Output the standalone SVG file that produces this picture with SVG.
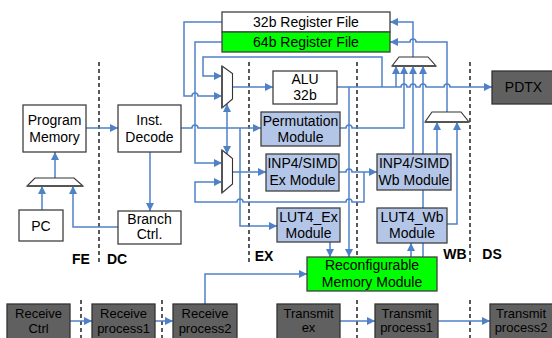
<svg xmlns="http://www.w3.org/2000/svg" width="552" height="338" viewBox="0 0 552 338">
<defs>
<marker id="ah" viewBox="0 0 10 10" refX="10" refY="5" markerWidth="9" markerHeight="8" markerUnits="userSpaceOnUse" orient="auto">
<path d="M0,0 L10,5 L0,10 z" fill="#4f81c7"/>
</marker>
<style>
.n{fill:#fff;stroke:#404040;stroke-width:1.3}
.b{fill:#b4c6e7;stroke:#404040;stroke-width:1.3}
.g{fill:#00ff00;stroke:#404040;stroke-width:1.3}
.d{fill:#606060;stroke:#333;stroke-width:1.3}
.m{fill:#fff;stroke:#333;stroke-width:1.1}
.me{stroke:#555;stroke-width:2;fill:none}
.t{font-family:"Liberation Sans",Arial,sans-serif;font-size:14px;text-anchor:middle;fill:#000}
.tb{font-family:"Liberation Sans",Arial,sans-serif;font-size:13px;text-anchor:middle;fill:#000}
.l{font-family:"Liberation Sans",Arial,sans-serif;font-size:14px;font-weight:bold;text-anchor:middle;fill:#000}
.c{fill:none;stroke:#4f81c7;stroke-width:1.5}
.a{marker-end:url(#ah)}
.s{stroke:#000;stroke-width:1.3;stroke-dasharray:4 3;fill:none}
</style>
</defs>
<rect width="552" height="338" fill="#fff"/>

<g id="stages">
<path class="s" d="M99,62 V265 M249,62 V262 M357,62 V257 M470,62 V262"/>
<path class="s" d="M81,300 V338 M162,300 V338 M357,300 V338 M470,300 V338"/>
<text class="l" x="81" y="263.5">FE</text>
<text class="l" x="117" y="263.5">DC</text>
<text class="l" x="264" y="261">EX</text>
<text class="l" x="455" y="259">WB</text>
<text class="l" x="492" y="259">DS</text>
</g>

<g id="connectors">
<path class="c a" d="M86,128 H118"/>
<path class="c a" d="M150,152 V211"/>
<path class="c a" d="M118,227 H73 V186"/>
<path class="c a" d="M42,210 V186"/>
<path class="c a" d="M55,178 V152"/>
<path class="c a" d="M222,22 H184 V96 H192 a3,3 0 0 1 6,0 H222"/>
<path class="c a" d="M222,42 H195 V163 H222"/>
<path class="c a" d="M181,128 H192 a3,3 0 0 1 6,0 H261"/>
<path class="c a" d="M227,128 V104"/>
<path class="c a" d="M227,128 V154"/>
<path class="c a" d="M240,128 V226 H277"/>
<path class="c a" d="M382,87 V57 H203 V76 H222"/>
<path class="c a" d="M232.5,87 H273"/>
<path class="c a" d="M232.5,172 H266"/>
<path class="c a" d="M337,87 H401 a3,3 0 0 1 6,0 H410 a3,3 0 0 1 6,0 H420 a3,3 0 0 1 6,0 H444 a3,3 0 0 1 6,0 H492"/>
<path class="c a" d="M396,87 V66"/>
<path class="c a" d="M349,87 V257"/>
<path class="c a" d="M340,128 H346 a3,3 0 0 1 6,0 H404 V66"/>
<path class="c a" d="M339,172 H346 a3,3 0 0 1 6,0 H377"/>
<path class="c a" d="M364,172 V202 H352 a3,3 0 0 0 -6,0 H243 a3,3 0 0 0 -6,0 H195 V182 H222"/>
<path class="c a" d="M330,242 V257"/>
<path class="c a" d="M205,304 V274 H307"/>
<path class="c a" d="M411,257 V243"/>
<path class="c a" d="M423,257 V66"/>
<path class="c a" d="M413,154 V66"/>
<path class="c a" d="M437,154 V122"/>
<path class="c a" d="M447,224 H457 V122"/>
<path class="c a" d="M447,112 V42 H416 a3,3 0 0 0 -6,0 H390"/>
<path class="c a" d="M413,57 V22 H390"/>
<path class="c a" d="M70,321 H92"/>
<path class="c a" d="M155,321 H173"/>
<path class="c a" d="M340,321 H375"/>
<path class="c a" d="M438,321 H490"/>
</g>

<g id="reg32">
<rect class="n" x="222" y="12" width="168" height="20"/>
<text class="t" x="306" y="27">32b Register File</text>
</g>
<g id="reg64">
<rect class="g" x="222" y="32" width="168" height="20"/>
<text class="t" x="306" y="47">64b Register File</text>
</g>
<g id="progmem">
<rect class="n" x="23" y="105" width="63" height="47"/>
<text class="t" x="54.5" y="124.5">Program</text>
<text class="t" x="54.5" y="142">Memory</text>
</g>
<g id="decode">
<rect class="n" x="118" y="105" width="63" height="47"/>
<text class="t" x="149.5" y="124.5">Inst.</text>
<text class="t" x="149.5" y="142">Decode</text>
</g>
<g id="pc">
<rect class="n" x="19" y="210" width="44" height="31"/>
<text class="t" x="41" y="230.5">PC</text>
</g>
<g id="branch">
<rect class="n" x="118" y="211" width="63" height="33"/>
<text class="t" x="149.5" y="224">Branch</text>
<text class="t" x="149.5" y="238.5">Ctrl.</text>
</g>
<g id="pcmux">
<polygon class="m" points="35,178 74,178 83,186 27,186"/>
<path class="me" d="M27,186 H83"/>
</g>
<g id="mux1">
<polygon class="m" points="222,66 232.5,73.5 232.5,99 222,108"/>
<path class="me" d="M222,66 V108"/>
</g>
<g id="mux2">
<polygon class="m" points="222,150 232.5,158.5 232.5,184 222,193"/>
<path class="me" d="M222,150 V193"/>
</g>
<g id="alu">
<rect class="n" x="273" y="71" width="64" height="33"/>
<text class="t" x="305" y="83.5">ALU</text>
<text class="t" x="305" y="100">32b</text>
</g>
<g id="perm">
<rect class="b" x="261" y="112" width="79" height="34"/>
<text class="t" x="300.5" y="125.5">Permutation</text>
<text class="t" x="300.5" y="142">Module</text>
</g>
<g id="inp4ex">
<rect class="b" x="266" y="154" width="73" height="37"/>
<text class="t" x="302.5" y="167.5">INP4/SIMD</text>
<text class="t" x="302.5" y="185">Ex Module</text>
</g>
<g id="lut4ex">
<rect class="b" x="277" y="208" width="63" height="34"/>
<text class="t" x="308.5" y="221.5">LUT4_Ex</text>
<text class="t" x="308.5" y="237.5">Module</text>
</g>
<g id="wbmux">
<polygon class="m" points="399,57 428,57 436,66 392,66"/>
<path class="me" d="M392,66 H436"/>
</g>
<g id="wbmux2">
<polygon class="m" points="432,112 461,112 469,122 425,122"/>
<path class="me" d="M425,122 H469"/>
</g>
<g id="inp4wb">
<rect class="b" x="377" y="154" width="74" height="36"/>
<text class="t" x="414" y="167.5">INP4/SIMD</text>
<text class="t" x="414" y="184.5">Wb Module</text>
</g>
<g id="lut4wb">
<rect class="b" x="377" y="208" width="70" height="35"/>
<text class="t" x="412" y="221.5">LUT4_Wb</text>
<text class="t" x="412" y="237.5">Module</text>
</g>
<g id="reconf">
<rect class="g" x="307" y="257" width="130" height="34"/>
<text class="t" x="372" y="270">Reconfigurable</text>
<text class="t" x="372" y="286.5">Memory Module</text>
</g>
<g id="pdtx">
<rect class="d" x="492" y="71" width="62" height="33"/>
<text class="t" x="523.5" y="92">PDTX</text>
</g>
<g id="rxctrl">
<rect class="d" x="7" y="304" width="63" height="36"/>
<text class="tb" x="38.5" y="318">Receive</text>
<text class="tb" x="38.5" y="332.5">Ctrl</text>
</g>
<g id="rxp1">
<rect class="d" x="92" y="304" width="63" height="36"/>
<text class="tb" x="123.5" y="318">Receive</text>
<text class="tb" x="123.5" y="332.5">process1</text>
</g>
<g id="rxp2">
<rect class="d" x="173" y="304" width="64" height="36"/>
<text class="tb" x="205" y="318">Receive</text>
<text class="tb" x="205" y="332.5">process2</text>
</g>
<g id="txex">
<rect class="d" x="277" y="304" width="63" height="36"/>
<text class="tb" x="308.5" y="317.5">Transmit</text>
<text class="tb" x="308.5" y="332">ex</text>
</g>
<g id="txp1">
<rect class="d" x="375" y="304" width="63" height="36"/>
<text class="tb" x="406.5" y="317.5">Transmit</text>
<text class="tb" x="406.5" y="332">process1</text>
</g>
<g id="txp2">
<rect class="d" x="490" y="304" width="64" height="36"/>
<text class="tb" x="521" y="317.5">Transmit</text>
<text class="tb" x="521" y="332">process2</text>
</g>
</svg>
